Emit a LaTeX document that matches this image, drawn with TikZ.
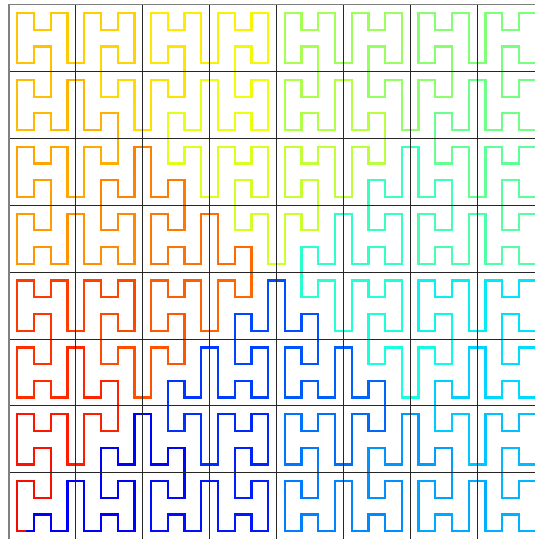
\documentclass[tikz,border=0pt]{standalone}
\usepackage{tikz}

\newcount\hci \newcount\hcj \newcount\hdx \newcount\hdy
\newcount\hvx \newcount\hvy \newcount\hhx \newcount\hhy
\newcount\hnx \newcount\hny \newcount\hta \newcount\htb
\newcount\hri \newcount\hrj \newcount\htmp

% #3 = #1 mod #2
\newcommand{\hmod}[3]{\htmp=#1\relax\divide\htmp by #2\relax\multiply\htmp by #2\relax#3=\numexpr#1-\htmp\relax}
\newcommand{\hset}[4]{\hvx=#1\relax\hvy=#2\relax\hhx=#3\relax\hhy=#4\relax}

% neighbours of a point inside one H cell (vertical one first)
\newcommand{\hbase}{%
  \hmod\hci4\hta \hmod\hcj4\htb
  \ifcase\numexpr4*\htb+\hta\relax
    \hset{0}{1}{1}{0}\or \hset{0}{1}{-1}{0}\or \hset{0}{1}{1}{0}\or \hset{0}{1}{-1}{0}\or
    \hset{0}{-1}{0}{1}\or \hset{0}{-1}{1}{0}\or \hset{0}{-1}{-1}{0}\or \hset{0}{-1}{0}{1}\or
    \hset{0}{-1}{0}{1}\or \hset{0}{1}{1}{0}\or \hset{0}{1}{-1}{0}\or \hset{0}{-1}{0}{1}\or
    \hset{0}{-1}{1}{0}\or \hset{0}{-1}{-1}{0}\or \hset{0}{-1}{1}{0}\or \hset{0}{-1}{-1}{0}\fi}

% joining four blocks of size #1 at their centre
\newcommand{\hcenter}[1]{%
  \hmod\hci{#1}\hri \hri=\numexpr\hri-#1/2+2\relax
  \hmod\hcj{#1}\hrj \hrj=\numexpr\hrj-#1/2+1\relax
  \ifnum\hri>-1 \ifnum\hri<4 \ifnum\hrj>-1 \ifnum\hrj<2
    \ifnum\numexpr(\hri-1)*(\hri-2)\relax=0 \hhx=-\hhx\relax
    \else \hhx=0\relax \hhy=\numexpr1-2*\hrj\relax \fi
  \fi\fi\fi\fi}

\begin{document}
\begin{tikzpicture}[x=0.5cm,y=0.5cm]
    \useasboundingbox (-0.538,0.04) rectangle (31.46,32.28);
    \global\hci=0 \global\hcj=31 \global\hdx=-1 \global\hdy=0
    \foreach \k in {0,...,1023} {
        \hbase \hcenter{8}\hcenter{16}\hcenter{32}
        \hnx=\hvx \hny=\hvy
        \ifnum\hvx=-\hdx\relax \ifnum\hvy=-\hdy\relax \hnx=\hhx \hny=\hhy \fi\fi
        \pgfmathsetmacro\hval{0.9-0.8*\k/1023}
        \pgfmathsetmacro\jr{max(0,min((\hval-0.35)/0.31,1,1-(\hval-0.89)/0.22))}
        \pgfmathsetmacro\jg{max(0,min((\hval-0.125)/0.25,1,1-(\hval-0.64)/0.27))}
        \pgfmathsetmacro\jb{max(0,min(0.5+0.5*\hval/0.11,1,1-(\hval-0.34)/0.31))}
        \definecolor{hc}{rgb}{\jr,\jg,\jb}
        \draw[hc,line width=1.9pt]
            ({\the\hci+0.5-0.5*\the\hdx},{31.5-\the\hcj+0.5*\the\hdy})
            -- ({\the\hci+0.5},{31.5-\the\hcj})
            -- ({\the\hci+0.5+0.5*\the\hnx},{31.5-\the\hcj-0.5*\the\hny});
        \global\hdx=\hnx \global\hdy=\hny
        \global\advance\hci by \hnx \global\advance\hcj by \hny
    }
    \foreach \g in {4,8,...,28} {
        \draw[black!85,line width=0.9pt] (\g,0) -- (\g,32);
        \draw[black!85,line width=0.9pt] (0,\g) -- (32,\g);
    }
    \draw[gray,line width=1.2pt] (0,0) rectangle (32,32);
\end{tikzpicture}
\end{document}
